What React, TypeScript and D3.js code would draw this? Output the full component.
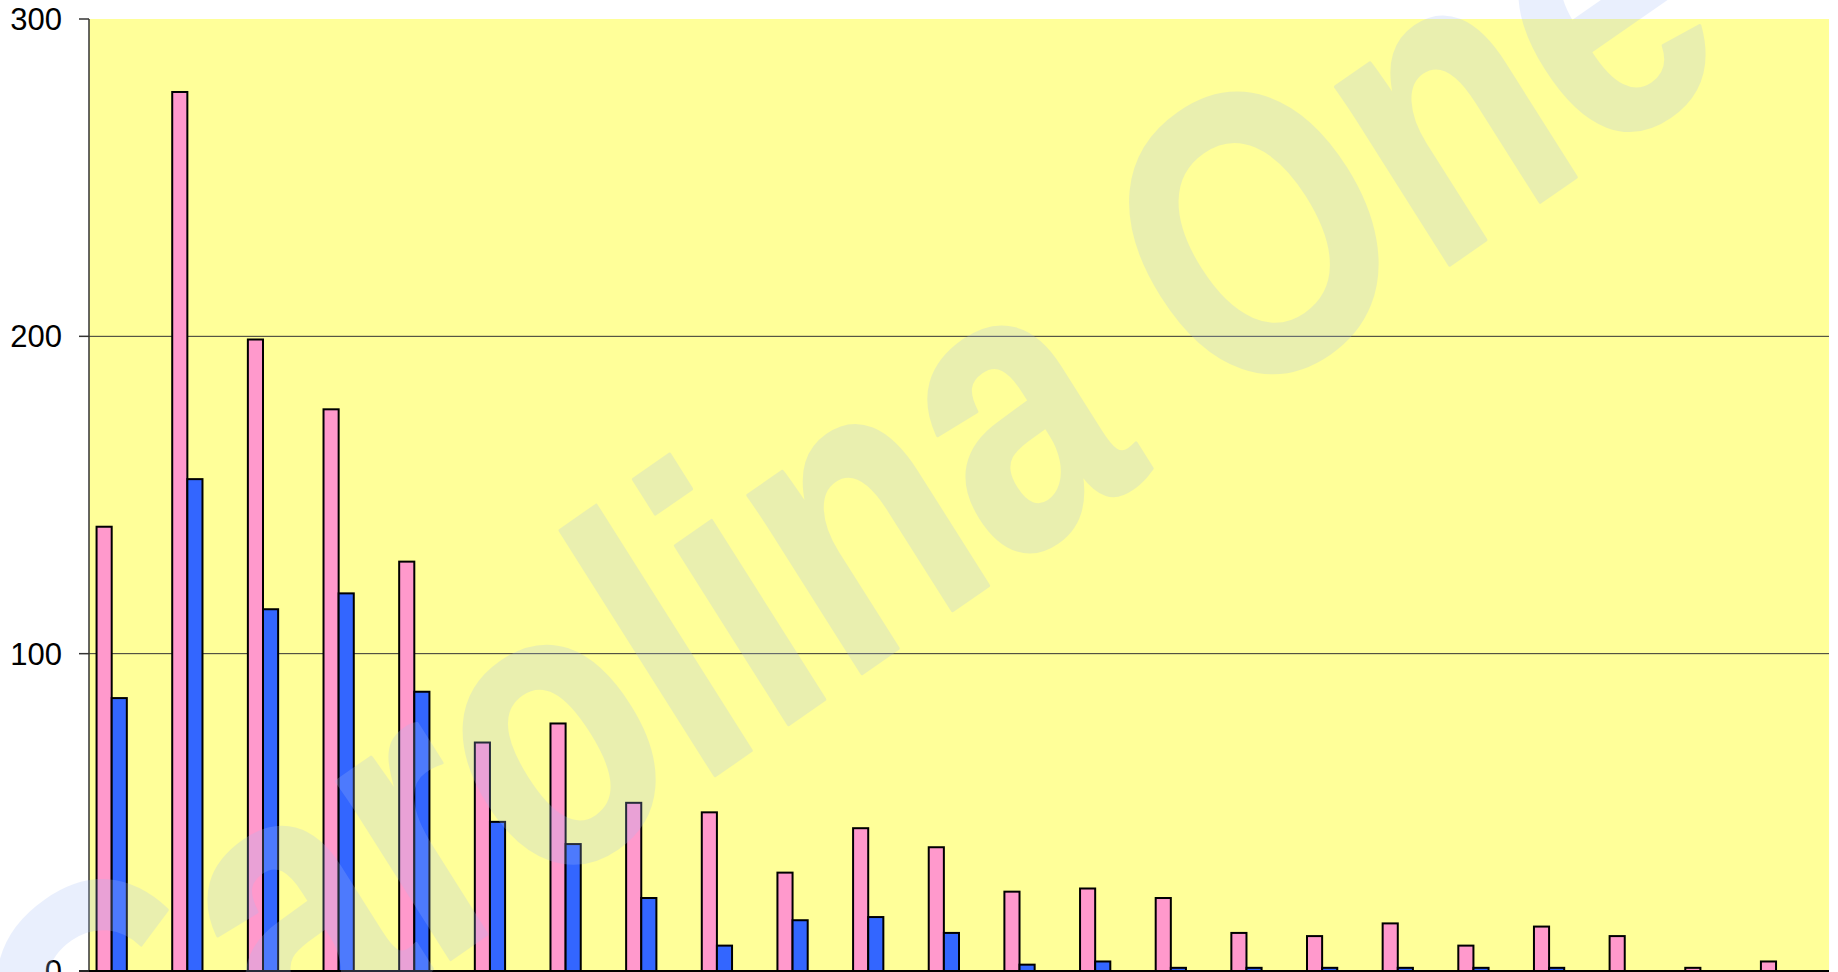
import React from "react";
import * as d3 from "d3";

// values
const categories = ["1","2","3","4","5","6","7","8","9","10","11","12","13","14","15","16","17","18","19","20","21","22","23"];
const pinkValues = [140, 277, 199, 177, 129, 72, 78, 53, 50, 31, 45, 39, 25, 26, 23, 12, 11, 15, 8, 14, 11, 1, 3];
const blueValues = [86, 155, 114, 119, 88, 47, 40, 23, 8, 16, 17, 12, 2, 3, 1, 1, 1, 1, 1, 1, 0, 0, 0];
// the chart reserves four slots per category, only the first two hold bars
const seriesSlots = ["Series1", "Series2", "Series3", "Series4"];
const yTicks = [0, 100, 200, 300];
const gridTicks = [100, 200];

const width = 1838;
const height = 972;
const margin = { top: 19, right: 9, bottom: 1, left: 89 };

const App: React.FC = () => {
  const x0 = d3
    .scaleBand()
    .domain(categories)
    .range([margin.left, width - margin.right])
    .padding(0);

  const x1 = d3
    .scaleBand()
    .domain(seriesSlots)
    .range([0, x0.bandwidth()])
    .paddingInner(0)
    .paddingOuter(0.5);

  const y = d3
    .scaleLinear()
    .domain([0, 300])
    .range([height - margin.bottom, margin.top]);

  const plotW = width - margin.left - margin.right;
  const plotH = height - margin.top - margin.bottom;

  const bars = (values: number[], slot: string, fill: string) =>
    values.map((v, i) =>
      v > 0 ? (
        <rect
          key={slot + i}
          x={x0(categories[i])! + x1(slot)!}
          y={y(v)}
          width={x1.bandwidth()}
          height={y(0) - y(v)}
          fill={fill}
          stroke="#000"
          strokeWidth={2}
        />
      ) : null
    );

  return (
    <svg
      width={width}
      height={height}
      style={{ position: "absolute", left: 0, top: 0, background: "#fff" }}
      fontFamily="'Liberation Sans', Arial, sans-serif"
    >
      {/* plot area */}
      <rect x={margin.left} y={margin.top} width={plotW} height={plotH} fill="#ffff99" />

      {/* gridlines */}
      {gridTicks.map((t) => (
        <line
          key={"g" + t}
          x1={margin.left}
          x2={width - margin.right}
          y1={y(t)}
          y2={y(t)}
          stroke="#333"
          strokeWidth={1}
        />
      ))}

      {bars(pinkValues, "Series1", "#ff99cc")}
      {bars(blueValues, "Series2", "#3366ff")}

      {/* y axis */}
      <line x1={margin.left} x2={margin.left} y1={margin.top} y2={y(0)} stroke="#333" strokeWidth={1.5} />
      <line x1={margin.left - 10} x2={width - margin.right} y1={y(0)} y2={y(0)} stroke="#000" strokeWidth={2} />
      {yTicks.map((t) => (
        <g key={"t" + t}>
          <line x1={margin.left - 10} x2={margin.left} y1={y(t)} y2={y(t)} stroke="#333" strokeWidth={1.5} />
          <text x={62} y={y(t)} dy="0.35em" textAnchor="end" fontSize={31} fill="#000">
            {t}
          </text>
        </g>
      ))}

      {/* watermark */}
      <g opacity={0.23}>
        <text
          transform="translate(94,1207) rotate(-34.8) skewX(-2.5) scale(1,1.24)"
          fontSize={322}
          fontWeight="bold"
          fill="#a4bdf7"
          stroke="#a4bdf7"
          strokeWidth={3}
          strokeLinejoin="round"
        >
          Carolina One
        </text>
      </g>
    </svg>
  );
};

export default App;
